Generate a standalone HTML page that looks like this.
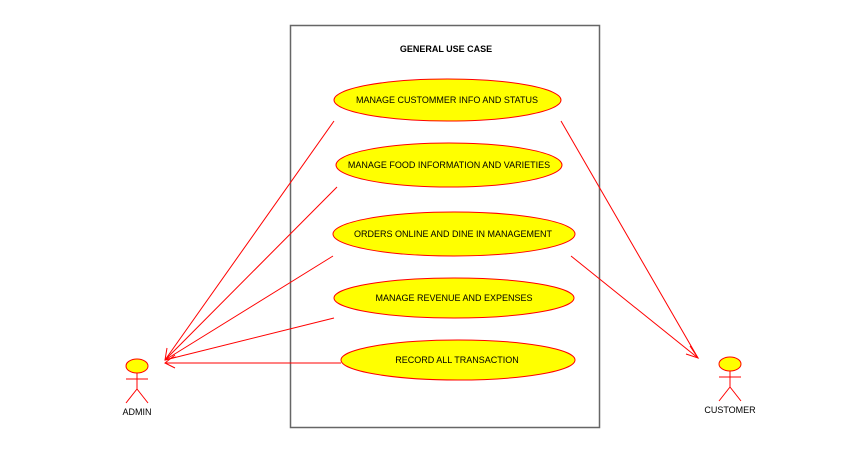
<!DOCTYPE html><html><head><style>body{margin:0;background:#fff}</style></head><body>
<svg width="854" height="465" xmlns="http://www.w3.org/2000/svg" font-family="Liberation Sans, sans-serif">
<rect x="290.5" y="25.5" width="309" height="402" fill="none" stroke="#666" stroke-width="1.5"/>
<text x="446" y="52" font-size="9" font-weight="bold" text-anchor="middle">GENERAL USE CASE</text>
<g stroke="#f00" stroke-width="1" fill="none">
<line x1="334" y1="121" x2="165" y2="360"/>
<line x1="337" y1="187" x2="165" y2="360"/>
<line x1="333" y1="256" x2="165" y2="360"/>
<line x1="334" y1="318" x2="165" y2="360"/>
<line x1="341" y1="363" x2="165" y2="363"/>
<path d="M175 355 L165 363 L175 368"/>
<path d="M167 348 L165 360 L176 357"/>
<line x1="561" y1="121" x2="698" y2="358"/>
<line x1="571" y1="256" x2="698" y2="358"/>
<path d="M690 346 L698 358 L686 354"/>
</g>
<g fill="#ff0" stroke="#f00" stroke-width="1">
<ellipse cx="447.5" cy="100" rx="113.5" ry="21"/>
<ellipse cx="449" cy="165" rx="113" ry="22"/>
<ellipse cx="454" cy="234" rx="121" ry="22"/>
<ellipse cx="454" cy="298" rx="120" ry="20"/>
<ellipse cx="458" cy="360" rx="117" ry="20"/>
</g>
<g font-size="9" text-anchor="middle" fill="#000">
<text x="447" y="103">MANAGE CUSTOMMER INFO AND STATUS</text>
<text x="449" y="168">MANAGE FOOD INFORMATION AND VARIETIES</text>
<text x="453" y="237">ORDERS ONLINE AND DINE IN MANAGEMENT</text>
<text x="454" y="301">MANAGE REVENUE AND EXPENSES</text>
<text x="457" y="363">RECORD ALL TRANSACTION</text>
</g>
<g stroke="#f00" stroke-width="1" fill="none">
<ellipse cx="137" cy="366" rx="11" ry="7" fill="#ff0"/>
<line x1="137" y1="373" x2="137" y2="389"/><line x1="126" y1="379" x2="148" y2="379"/>
<path d="M126 403 L137 389 L148 403"/>
<ellipse cx="730" cy="364" rx="11" ry="7" fill="#ff0"/>
<line x1="730" y1="371" x2="730" y2="387"/><line x1="719" y1="377" x2="741" y2="377"/>
<path d="M719 401 L730 387 L741 401"/>
</g>
<text x="137" y="415" font-size="9" text-anchor="middle">ADMIN</text>
<text x="730" y="413" font-size="9" text-anchor="middle">CUSTOMER</text>
</svg></body></html>
